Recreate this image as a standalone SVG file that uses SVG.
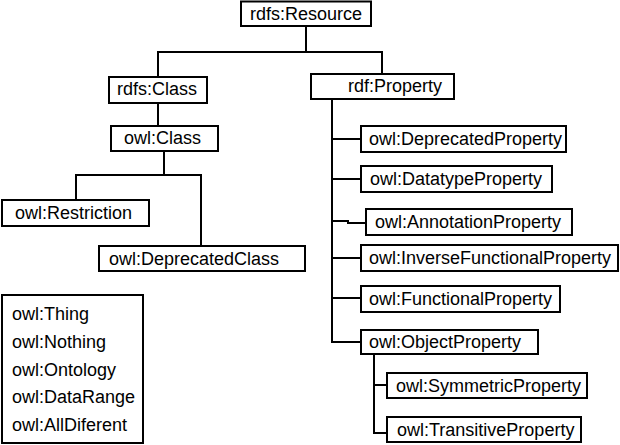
<svg xmlns="http://www.w3.org/2000/svg" width="620" height="445" viewBox="0 0 620 445">
<style>
  .box { fill: #fff; stroke: #000; stroke-width: 2; }
  .lbl { font-family: "Liberation Sans", Arial, sans-serif; font-size: 18px; fill: #000; }
  .conn { fill: none; stroke: #000; stroke-width: 2; }
</style>
<rect width="620" height="445" fill="#fff"/>
<g id="connectors" class="conn">
  <path d="M306 26 V52"/>
  <path d="M158 77 V52 H382 V74"/>
  <path d="M158 103 V126"/>
  <path d="M164 151 V175"/>
  <path d="M76 200 V175 H201 V246"/>
  <path d="M332 99 V342 H361"/>
  <path d="M332 139 H361"/>
  <path d="M332 179 H361"/>
  <path d="M332 221 H348 V223 H366"/>
  <path d="M332 258 H361"/>
  <path d="M332 298 H361"/>
  <path d="M374 354 V433 H387"/>
  <path d="M374 385 H387"/>
</g>
<g id="rdfs-resource"><rect class="box" x="241" y="1.5" width="130" height="24.5"/><text class="lbl" x="250" y="20">rdfs:Resource</text></g>
<g id="rdfs-class"><rect class="box" x="109" y="77" width="98" height="26"/><text class="lbl" x="117" y="95">rdfs:Class</text></g>
<g id="owl-class"><rect class="box" x="111" y="126" width="107" height="25"/><text class="lbl" x="124" y="144">owl:Class</text></g>
<g id="rdf-property"><rect class="box" x="311" y="74" width="143" height="25"/><text class="lbl" x="348" y="92">rdf:Property</text></g>
<g id="owl-restriction"><rect class="box" x="2" y="200" width="147" height="26"/><text class="lbl" x="15" y="219">owl:Restriction</text></g>
<g id="owl-deprecatedclass"><rect class="box" x="99" y="246" width="206" height="25"/><text class="lbl" x="109" y="265">owl:DeprecatedClass</text></g>
<g id="owl-deprecatedproperty"><rect class="box" x="361" y="126" width="205" height="26"/><text class="lbl" x="369" y="145">owl:DeprecatedProperty</text></g>
<g id="owl-datatypeproperty"><rect class="box" x="361" y="166" width="191" height="26"/><text class="lbl" x="370" y="185">owl:DatatypeProperty</text></g>
<g id="owl-annotationproperty"><rect class="box" x="366" y="209" width="206" height="26"/><text class="lbl" x="375" y="228">owl:AnnotationProperty</text></g>
<g id="owl-inversefunctionalproperty"><rect class="box" x="361" y="245" width="257" height="26"/><text class="lbl" x="369" y="264">owl:InverseFunctionalProperty</text></g>
<g id="owl-functionalproperty"><rect class="box" x="361" y="286" width="199" height="26"/><text class="lbl" x="369" y="305">owl:FunctionalProperty</text></g>
<g id="owl-objectproperty"><rect class="box" x="361" y="330" width="177" height="24"/><text class="lbl" x="369" y="348">owl:ObjectProperty</text></g>
<g id="owl-symmetricproperty"><rect class="box" x="387" y="373" width="200" height="25"/><text class="lbl" x="396" y="392">owl:SymmetricProperty</text></g>
<g id="owl-transitiveproperty"><rect class="box" x="387" y="417" width="194" height="25"/><text class="lbl" x="397" y="436">owl:TransitiveProperty</text></g>
<g id="other-classes">
  <rect class="box" x="2" y="295" width="141" height="148"/>
  <text class="lbl" x="12" y="320">owl:Thing</text>
  <text class="lbl" x="12" y="348">owl:Nothing</text>
  <text class="lbl" x="12" y="376">owl:Ontology</text>
  <text class="lbl" x="12" y="403">owl:DataRange</text>
  <text class="lbl" x="12" y="431">owl:AllDiferent</text>
</g>
</svg>
